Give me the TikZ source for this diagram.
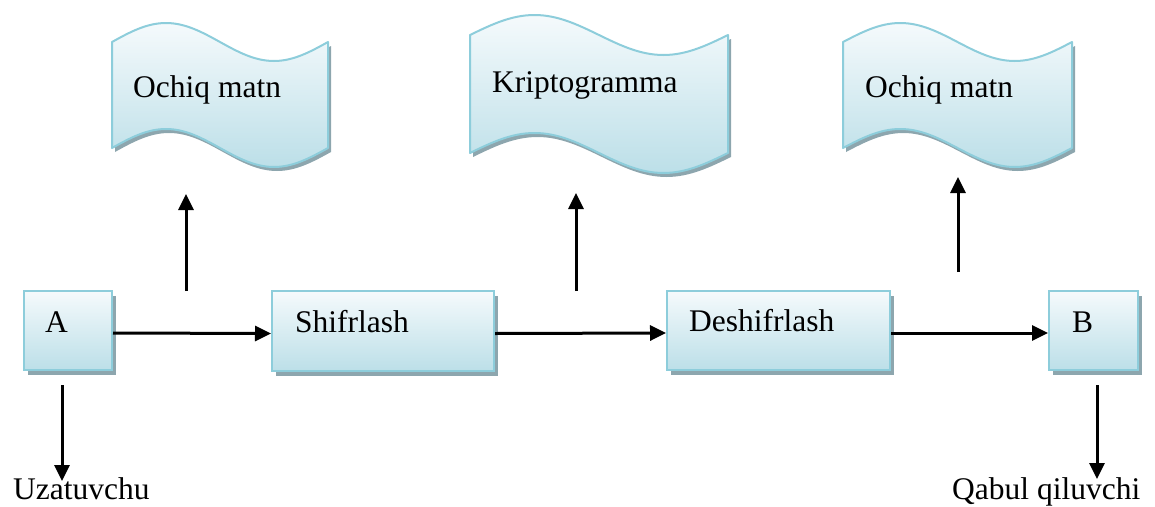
\documentclass[tikz,border=0pt]{standalone}
\usepackage{fontspec}
\setmainfont{Liberation Serif}
\usetikzlibrary{arrows.meta,shadows}

\definecolor{boxtop}{HTML}{F5FAFC}
\definecolor{boxbot}{HTML}{BCDFE8}
\definecolor{boxline}{HTML}{8DCDDB}
\definecolor{shadowc}{HTML}{8DA6AE}

% Wavy "punched tape" sheet: #1,#2 left end of the top edge, #3 quarter width,
% #4 height between the wave ends, #5 wave amplitude
\newcommand{\wavedoc}[5]{%
  \def\wavesheet{(#1,#2)
    sin ++(#3,-#5) cos ++(#3,#5) sin ++(#3,#5) cos ++(#3,-#5)
    -- ++(0,#4)
    sin ++(-#3,#5) cos ++(-#3,-#5) sin ++(-#3,-#5) cos ++(-#3,#5)
    -- cycle}%
  \fill[shadowc,shift={(3,4)}] \wavesheet;
  \shade[top color=boxtop,bottom color=boxbot] \wavesheet;
  \draw[boxline,line width=2pt,line join=round] \wavesheet;
}

\tikzset{
  box/.style={rectangle, draw=boxline, line width=2pt, top color=boxtop,
    bottom color=boxbot, inner sep=0pt,
    drop shadow={shadow xshift=4pt, shadow yshift=-5pt, fill=shadowc, opacity=1}},
  lbl/.style={inner sep=0pt, anchor=base west,
    font=\fontsize{31.5}{38}\selectfont},
  arr/.style={line width=3pt, -{Triangle[length=16pt,width=15pt]}}
}

\begin{document}
\begin{tikzpicture}[x=1pt,y=-1pt]
\useasboundingbox (0,0) rectangle (1155,506);

% sheets
\wavedoc{112}{42}{54}{106}{19}
\wavedoc{470}{35}{64.5}{118}{20}
\wavedoc{843}{42}{57.25}{106}{19}
\node[lbl] (t1) at (133,97) {Ochiq matn};
\node[lbl] (t2) at (492,92) {Kriptogramma};
\node[lbl] (t3) at (865,97) {Ochiq matn};

% process boxes
\node[box, minimum width=88pt, minimum height=79pt] (A) at (68,330.5) {};
\node[box, minimum width=222pt, minimum height=80pt] (S) at (383,331) {};
\node[box, minimum width=223pt, minimum height=79pt] (D) at (778.5,330.5) {};
\node[box, minimum width=89pt, minimum height=79pt] (B) at (1093.5,330.5) {};
\node[lbl] (tA) at (45,332) {A};
\node[lbl] (tS) at (295,332) {Shifrlash};
\node[lbl] (tD) at (689,331) {Deshifrlash};
\node[lbl] (tB) at (1072,332) {B};

% end labels
\node[lbl] (snd) at (13,499) {Uzatuvchu};
\node[lbl] (rcv) at (952,499) {Qabul qiluvchi};

% main flow
\draw[arr] ([yshift=-2.5pt]A.east) -- ([yshift=-2.5pt]S.west);
\draw[arr] ([yshift=-2.5pt]S.east) -- ([yshift=-2.5pt]D.west);
\draw[arr] ([yshift=-2.5pt]D.east) -- ([yshift=-2.5pt]B.west);

% upward outputs
\coordinate (u1a) at (186,291); \coordinate (u1b) at (186,194);
\coordinate (u2a) at (576,291); \coordinate (u2b) at (576,193);
\coordinate (u3a) at (958,272); \coordinate (u3b) at (958,177);
\draw[arr] (u1a) -- (u1b);
\draw[arr] (u2a) -- (u2b);
\draw[arr] (u3a) -- (u3b);

% sender and receiver
\coordinate (d1a) at (62,385); \coordinate (d1b) at (62,481);
\coordinate (d2a) at (1097,385); \coordinate (d2b) at (1097,479);
\draw[arr] (d1a) -- (d1b);
\draw[arr] (d2a) -- (d2b);
\end{tikzpicture}
\end{document}
